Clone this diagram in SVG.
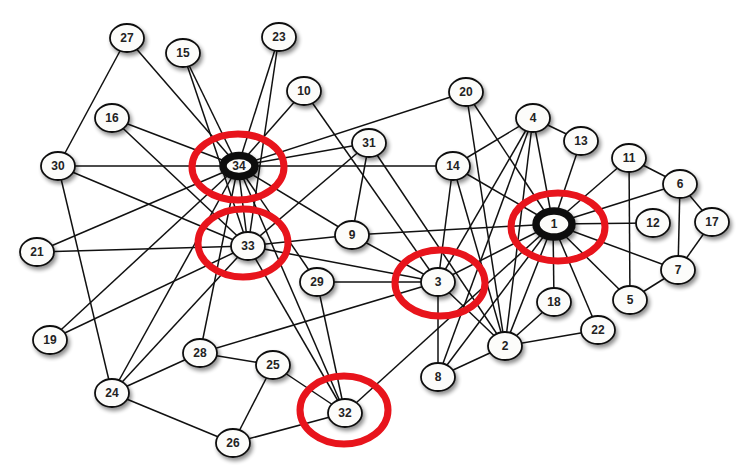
<svg xmlns="http://www.w3.org/2000/svg" width="749" height="475" viewBox="0 0 749 475">
<defs>
<filter id="sh" x="-50%" y="-50%" width="200%" height="200%">
<feGaussianBlur in="SourceAlpha" stdDeviation="2"/>
<feOffset dx="2" dy="3" result="b"/>
<feComponentTransfer><feFuncA type="linear" slope="0.45"/></feComponentTransfer>
<feMerge><feMergeNode/><feMergeNode in="SourceGraphic"/></feMerge>
</filter>
</defs>
<style>
.e line{stroke:#111;stroke-width:1.5}
.n ellipse{fill:#fcfcfa;stroke:#111;stroke-width:1.8;filter:url(#sh)}
.n text{font-family:"Liberation Sans",Arial,sans-serif;font-size:12px;font-weight:bold;fill:#222;text-anchor:middle;dominant-baseline:central}
.hub ellipse{stroke-width:7.5}
.r{fill:none;stroke:#e8141c;stroke-width:7}
</style>
<rect width="749" height="475" fill="#fff"/>
<g id="connectors" class="e">
<line x1="553" y1="224" x2="505" y2="346"/>
<line x1="553" y1="224" x2="438" y2="282"/>
<line x1="553" y1="224" x2="533" y2="118"/>
<line x1="553" y1="224" x2="630" y2="300"/>
<line x1="553" y1="224" x2="680" y2="184"/>
<line x1="553" y1="224" x2="678" y2="270"/>
<line x1="553" y1="224" x2="438" y2="377"/>
<line x1="553" y1="224" x2="352" y2="235"/>
<line x1="553" y1="224" x2="629" y2="158"/>
<line x1="553" y1="224" x2="653" y2="223"/>
<line x1="553" y1="224" x2="581" y2="141"/>
<line x1="553" y1="224" x2="453" y2="166"/>
<line x1="553" y1="224" x2="554" y2="302"/>
<line x1="553" y1="224" x2="466" y2="92"/>
<line x1="553" y1="224" x2="598" y2="330"/>
<line x1="553" y1="224" x2="345" y2="413"/>
<line x1="505" y1="346" x2="438" y2="282"/>
<line x1="505" y1="346" x2="533" y2="118"/>
<line x1="505" y1="346" x2="438" y2="377"/>
<line x1="505" y1="346" x2="453" y2="166"/>
<line x1="505" y1="346" x2="554" y2="302"/>
<line x1="505" y1="346" x2="466" y2="92"/>
<line x1="505" y1="346" x2="598" y2="330"/>
<line x1="505" y1="346" x2="369" y2="143"/>
<line x1="438" y1="282" x2="533" y2="118"/>
<line x1="438" y1="282" x2="438" y2="377"/>
<line x1="438" y1="282" x2="352" y2="235"/>
<line x1="438" y1="282" x2="304" y2="91"/>
<line x1="438" y1="282" x2="453" y2="166"/>
<line x1="438" y1="282" x2="200" y2="353"/>
<line x1="438" y1="282" x2="317" y2="282"/>
<line x1="438" y1="282" x2="248" y2="246"/>
<line x1="533" y1="118" x2="438" y2="377"/>
<line x1="533" y1="118" x2="581" y2="141"/>
<line x1="533" y1="118" x2="453" y2="166"/>
<line x1="630" y1="300" x2="678" y2="270"/>
<line x1="630" y1="300" x2="629" y2="158"/>
<line x1="680" y1="184" x2="678" y2="270"/>
<line x1="680" y1="184" x2="629" y2="158"/>
<line x1="680" y1="184" x2="712" y2="222"/>
<line x1="678" y1="270" x2="712" y2="222"/>
<line x1="352" y1="235" x2="369" y2="143"/>
<line x1="352" y1="235" x2="248" y2="246"/>
<line x1="352" y1="235" x2="238" y2="166"/>
<line x1="304" y1="91" x2="238" y2="166"/>
<line x1="453" y1="166" x2="238" y2="166"/>
<line x1="183" y1="53" x2="248" y2="246"/>
<line x1="183" y1="53" x2="238" y2="166"/>
<line x1="112" y1="118" x2="248" y2="246"/>
<line x1="112" y1="118" x2="238" y2="166"/>
<line x1="50" y1="340" x2="248" y2="246"/>
<line x1="50" y1="340" x2="238" y2="166"/>
<line x1="466" y1="92" x2="238" y2="166"/>
<line x1="37" y1="252" x2="248" y2="246"/>
<line x1="37" y1="252" x2="238" y2="166"/>
<line x1="279" y1="37" x2="248" y2="246"/>
<line x1="279" y1="37" x2="238" y2="166"/>
<line x1="112" y1="393" x2="233" y2="443"/>
<line x1="112" y1="393" x2="200" y2="353"/>
<line x1="112" y1="393" x2="58" y2="166"/>
<line x1="112" y1="393" x2="248" y2="246"/>
<line x1="112" y1="393" x2="238" y2="166"/>
<line x1="273" y1="365" x2="233" y2="443"/>
<line x1="273" y1="365" x2="200" y2="353"/>
<line x1="273" y1="365" x2="345" y2="413"/>
<line x1="233" y1="443" x2="345" y2="413"/>
<line x1="127" y1="38" x2="58" y2="166"/>
<line x1="127" y1="38" x2="238" y2="166"/>
<line x1="200" y1="353" x2="238" y2="166"/>
<line x1="317" y1="282" x2="345" y2="413"/>
<line x1="317" y1="282" x2="238" y2="166"/>
<line x1="58" y1="166" x2="248" y2="246"/>
<line x1="58" y1="166" x2="238" y2="166"/>
<line x1="369" y1="143" x2="248" y2="246"/>
<line x1="369" y1="143" x2="238" y2="166"/>
<line x1="345" y1="413" x2="248" y2="246"/>
<line x1="345" y1="413" x2="238" y2="166"/>
<line x1="248" y1="246" x2="238" y2="166"/>
</g>
<g id="n27" class="n"><ellipse cx="127" cy="38" rx="17" ry="14"/><text x="127" y="38">27</text></g>
<g id="n15" class="n"><ellipse cx="183" cy="53" rx="17" ry="14"/><text x="183" y="53">15</text></g>
<g id="n23" class="n"><ellipse cx="279" cy="37" rx="17" ry="14"/><text x="279" y="37">23</text></g>
<g id="n10" class="n"><ellipse cx="304" cy="91" rx="17" ry="14"/><text x="304" y="91">10</text></g>
<g id="n16" class="n"><ellipse cx="112" cy="118" rx="17" ry="14"/><text x="112" y="118">16</text></g>
<g id="n30" class="n"><ellipse cx="58" cy="166" rx="17" ry="14"/><text x="58" y="166">30</text></g>
<g id="n34" class="n hub"><ellipse cx="239" cy="166" rx="16" ry="10.5"/><text x="239" y="166">34</text></g>
<g id="n31" class="n"><ellipse cx="369" cy="143" rx="17" ry="14"/><text x="369" y="143">31</text></g>
<g id="n20" class="n"><ellipse cx="466" cy="92" rx="17" ry="14"/><text x="466" y="92">20</text></g>
<g id="n4" class="n"><ellipse cx="533" cy="118" rx="17" ry="14"/><text x="533" y="118">4</text></g>
<g id="n13" class="n"><ellipse cx="581" cy="141" rx="17" ry="14"/><text x="581" y="141">13</text></g>
<g id="n14" class="n"><ellipse cx="453" cy="166" rx="17" ry="14"/><text x="453" y="166">14</text></g>
<g id="n11" class="n"><ellipse cx="629" cy="158" rx="17" ry="14"/><text x="629" y="158">11</text></g>
<g id="n6" class="n"><ellipse cx="680" cy="184" rx="17" ry="14"/><text x="680" y="184">6</text></g>
<g id="n17" class="n"><ellipse cx="712" cy="222" rx="17" ry="14"/><text x="712" y="222">17</text></g>
<g id="n12" class="n"><ellipse cx="653" cy="223" rx="17" ry="14"/><text x="653" y="223">12</text></g>
<g id="n1" class="n hub"><ellipse cx="554" cy="224" rx="18" ry="13"/><text x="554" y="224">1</text></g>
<g id="n7" class="n"><ellipse cx="678" cy="270" rx="17" ry="14"/><text x="678" y="270">7</text></g>
<g id="n5" class="n"><ellipse cx="630" cy="300" rx="17" ry="14"/><text x="630" y="300">5</text></g>
<g id="n18" class="n"><ellipse cx="554" cy="302" rx="17" ry="14"/><text x="554" y="302">18</text></g>
<g id="n22" class="n"><ellipse cx="598" cy="330" rx="17" ry="14"/><text x="598" y="330">22</text></g>
<g id="n2" class="n"><ellipse cx="505" cy="346" rx="17" ry="14"/><text x="505" y="346">2</text></g>
<g id="n8" class="n"><ellipse cx="438" cy="377" rx="17" ry="14"/><text x="438" y="377">8</text></g>
<g id="n3" class="n"><ellipse cx="438" cy="282" rx="17" ry="14"/><text x="438" y="282">3</text></g>
<g id="n9" class="n"><ellipse cx="352" cy="235" rx="17" ry="14"/><text x="352" y="235">9</text></g>
<g id="n33" class="n"><ellipse cx="248" cy="246" rx="17" ry="14"/><text x="248" y="246">33</text></g>
<g id="n29" class="n"><ellipse cx="317" cy="282" rx="17" ry="14"/><text x="317" y="282">29</text></g>
<g id="n21" class="n"><ellipse cx="37" cy="252" rx="17" ry="14"/><text x="37" y="252">21</text></g>
<g id="n19" class="n"><ellipse cx="50" cy="340" rx="17" ry="14"/><text x="50" y="340">19</text></g>
<g id="n28" class="n"><ellipse cx="200" cy="353" rx="17" ry="14"/><text x="200" y="353">28</text></g>
<g id="n25" class="n"><ellipse cx="273" cy="365" rx="17" ry="14"/><text x="273" y="365">25</text></g>
<g id="n24" class="n"><ellipse cx="112" cy="393" rx="17" ry="14"/><text x="112" y="393">24</text></g>
<g id="n26" class="n"><ellipse cx="233" cy="443" rx="17" ry="14"/><text x="233" y="443">26</text></g>
<g id="n32" class="n"><ellipse cx="345" cy="413" rx="17" ry="14"/><text x="345" y="413">32</text></g>
<g id="highlights">
<ellipse class="r" cx="238" cy="167" rx="46" ry="33"/>
<ellipse class="r" cx="243" cy="243" rx="45" ry="34"/>
<ellipse class="r" cx="440" cy="283" rx="45" ry="33"/>
<ellipse class="r" cx="558" cy="227" rx="47" ry="34"/>
<ellipse class="r" cx="344" cy="410" rx="44" ry="34"/>
</g>
</svg>
